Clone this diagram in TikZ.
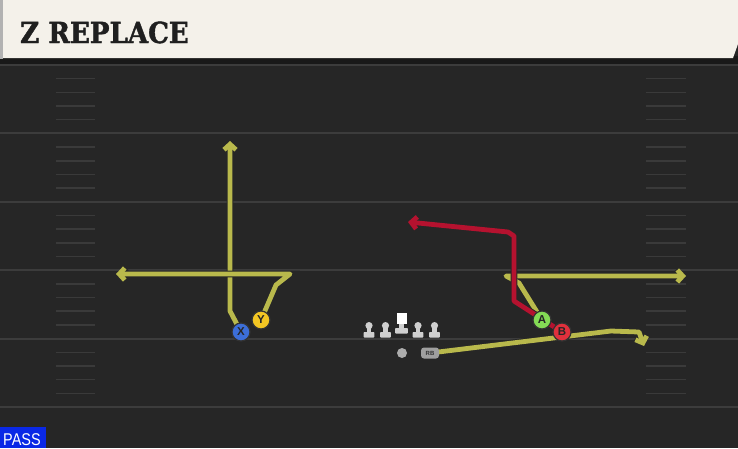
\documentclass[tikz,border=0pt]{standalone}
\usepackage{fontspec}
\usepackage{graphicx}
\setmainfont{Liberation Sans}
\newfontfamily\titlefont{DejaVu Serif Bold}[FakeBold=1.5]
\usetikzlibrary{arrows.meta}
\definecolor{fieldbg}{HTML}{262626}
\definecolor{yardln}{HTML}{3C3C3C}
\definecolor{hashln}{HTML}{3A3A3A}
\definecolor{header}{HTML}{F4F1EA}
\definecolor{routeY}{HTML}{B9B94C}
\definecolor{routeR}{HTML}{B5122F}
\definecolor{plBlue}{HTML}{3C6ED8}
\definecolor{plYellow}{HTML}{F3C623}
\definecolor{plGreen}{HTML}{84DB55}
\definecolor{plRed}{HTML}{E0303C}
\definecolor{lineman}{HTML}{CFCFCF}
\definecolor{passblue}{HTML}{0A28E6}
\tikzset{
  route/.style={line width=4.8pt, line join=round, line cap=round,
    preaction={draw=black!85, line width=6.8pt}},
  yroute/.style={route, draw=routeY},
  rroute/.style={route, draw=routeR},
  tip/.style={-{Straight Barb[length=5.5pt,width=12pt]}},
  player/.style={circle, draw=black!80, line width=1.2pt, minimum size=18pt,
    inner sep=0pt, font=\bfseries\fontsize{11.5}{11.5}\selectfont, text=black!85},
  yard/.style={draw=yardln, line width=2pt},
  hashm/.style={draw=hashln, line width=1.5pt},
  pics/olman/.style={code={
    \fill[lineman] (0,3.6) circle (3.6);
    \fill[lineman] (-2.4,3) rectangle (2.4,11);
    \fill[lineman, rounded corners=0.8pt] (-5.4,10) rectangle (5.4,15.5);
  }},
  pics/cman/.style={code={
    \fill[white] (-5,0) rectangle (5,11);
    \fill[lineman] (-2.4,11) rectangle (2.4,16);
    \fill[lineman, rounded corners=0.8pt] (-6.4,15) rectangle (6.4,20.5);
  }}
}
\begin{document}
\begin{tikzpicture}[x=1pt,y=-1pt]
\useasboundingbox (0,0) rectangle (738,448);
% field
\fill[fieldbg] (0,0) rectangle (738,448);
\fill[black!90] (0,56) rectangle (738,64);
% yard lines and hashes
\foreach \k in {0,...,5} {
  \draw[yard] (0,{65+68.4*\k}) -- (738,{65+68.4*\k});
}
\foreach \j in {1,...,24} {
  \pgfmathtruncatemacro{\m}{mod(\j,5)}
  \ifnum\m=0\relax\else
    \draw[hashm] (56,{65+13.68*\j}) -- (95,{65+13.68*\j});
    \draw[hashm] (646,{65+13.68*\j}) -- (686,{65+13.68*\j});
  \fi
}
% header
\fill[gray!60] (0,0) rectangle (3,59);
\fill[header] (3,0) -- (738,0) -- (738,44) -- (733,58) -- (3,58) -- cycle;
\node[anchor=base west, inner sep=0pt, text=black!88] (title) at (20,43)
  {\scalebox{0.9}[1]{\titlefont\fontsize{29}{29}\selectfont Z REPLACE}};
% positions
\coordinate (Xp) at (241,332);
\coordinate (Yp) at (261,320);
\coordinate (Ap) at (542,320);
\coordinate (Bp) at (562,332);
\coordinate (RBp) at (430,353);
% routes
\draw[yroute, tip] (Xp) -- (230,311) -- (230,141);
\draw[yroute, tip] (Yp) -- (276,285) -- (290,274) -- (116,274);
\draw[yroute, tip] (RBp) -- (611,331) -- (639,332) -- (644,346);
\draw[yroute, tip] (Ap) -- (519,283) -- (506,276) -- (686,276);
\draw[rroute, tip] (Bp) -- (514,301) -- (514,236) -- (508,232) -- (408,222);
% offensive line
\pic at (369,322) {olman};
\pic at (385.5,322) {olman};
\pic at (401.5,313) {cman};
\pic at (418,322) {olman};
\pic at (434.5,322) {olman};
% QB and RB
\node[circle, fill=gray!65, minimum size=10pt, inner sep=0pt] (QB) at (402,353) {};
\node[fill=gray!75, rounded corners=3pt, minimum width=18pt, minimum height=11pt,
  inner sep=0pt, font=\bfseries\fontsize{6}{6}\selectfont, text=black!80] (RB) at (RBp) {RB};
% players
\node[player, fill=plBlue] (X) at (Xp) {X};
\node[player, fill=plYellow] (Y) at (Yp) {Y};
\node[player, fill=plGreen] (A) at (Ap) {A};
\node[player, fill=plRed] (B) at (Bp) {B};
% pass label
\fill[passblue] (0,427) rectangle (46,448);
\node[anchor=base west, inner sep=0pt, text=white] (pass) at (3,445)
  {\scalebox{0.85}[1]{\fontsize{17}{17}\selectfont PASS}};
\end{tikzpicture}
\end{document}
